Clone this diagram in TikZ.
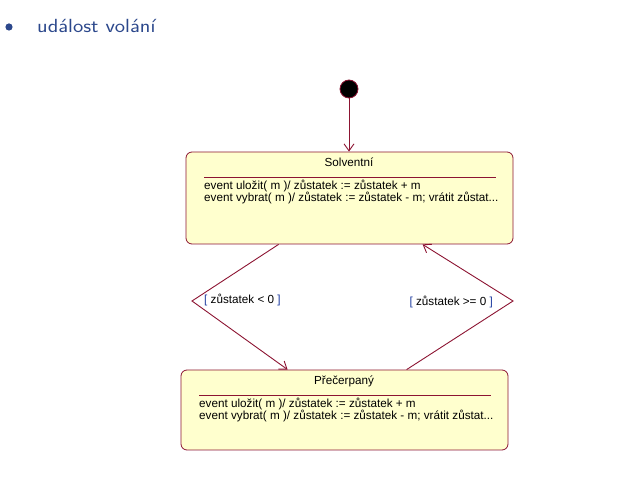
\documentclass[tikz,border=0pt]{standalone}
\usepackage{fontspec}
\setmainfont{Liberation Sans}
\setsansfont{Latin Modern Sans}
\usetikzlibrary{arrows.meta,calc}

\definecolor{titleblue}{RGB}{44,72,140}
\definecolor{statefill}{RGB}{255,255,206}
\definecolor{stateline}{RGB}{140,20,50}
\definecolor{guardblue}{RGB}{30,60,160}

\tikzset{
  statebox/.style={draw=stateline, fill=statefill, rounded corners=6pt, line width=0.8pt},
  statetext/.style={font=\fontsize{11.7}{12}\selectfont, inner sep=0pt, align=left},
  trans/.style={draw=stateline, line width=0.9pt, -{Straight Barb[length=7pt,width=10pt]}},
  guard/.style={font=\fontsize{11.7}{12}\selectfont, inner sep=0pt}
}
\newcommand{\grd}[1]{\textcolor{guardblue}{[} #1 \textcolor{guardblue}{]}}

\begin{document}
\begin{tikzpicture}[x=1pt, y=-1pt]
  \useasboundingbox (0,0) rectangle (638,494);

  % Nadpis
  \fill[titleblue] (9,27) circle (3.6pt);
  \node[anchor=base west, inner sep=0pt, xscale=1.15, text=titleblue, font=\sffamily\fontsize{19}{21}\selectfont]
    (title) at (37,33) {událost volání};

  % Počáteční stav
  \filldraw[fill=black, draw=stateline, line width=0.8pt] (349,89) circle (9pt);
  \coordinate (init) at (349,98);

  % Stav Solventní
  \node[statebox, minimum width=327pt, minimum height=92pt] (solv) at (349.5,198) {};
  \node[statetext] (solvname) at (349,162) {Solventní};
  \draw[stateline, line width=0.8pt] (204,177) -- (496,177);
  \node[statetext, anchor=north west] (solvops) at (204,180)
    {event uložit( m )/ zůstatek := zůstatek + m\\
     event vybrat( m )/ zůstatek := zůstatek - m; vrátit zůstat...};

  % Stav Přečerpaný
  \node[statebox, minimum width=327pt, minimum height=80pt] (prec) at (344.5,410) {};
  \node[statetext] (precname) at (344,381) {Přečerpaný};
  \draw[stateline, line width=0.8pt] (199,395) -- (491,395);
  \node[statetext, anchor=north west] (precops) at (199,398)
    {event uložit( m )/ zůstatek := zůstatek + m\\
     event vybrat( m )/ zůstatek := zůstatek - m; vrátit zůstat...};

  % Body zlomu přechodů
  \coordinate (bendL) at (192,301);
  \coordinate (bendR) at (513,301);

  % Přechody
  \draw[trans] (init) -- (init |- solv.north);
  \draw[trans] ($(solv.south west)+(93,0)$) -- (bendL) -- ($(prec.north west)+(107,0)$);
  \draw[trans] ($(prec.north west)+(226,0)$) -- (bendR) -- ($(solv.south west)+(237,0)$);

  % Podmínky
  \node[guard, anchor=west] (gneg) at (204,300) {\grd{zůstatek < 0}};
  \node[guard, anchor=east] (gpos) at (493,302) {\grd{zůstatek >= 0}};
\end{tikzpicture}
\end{document}
